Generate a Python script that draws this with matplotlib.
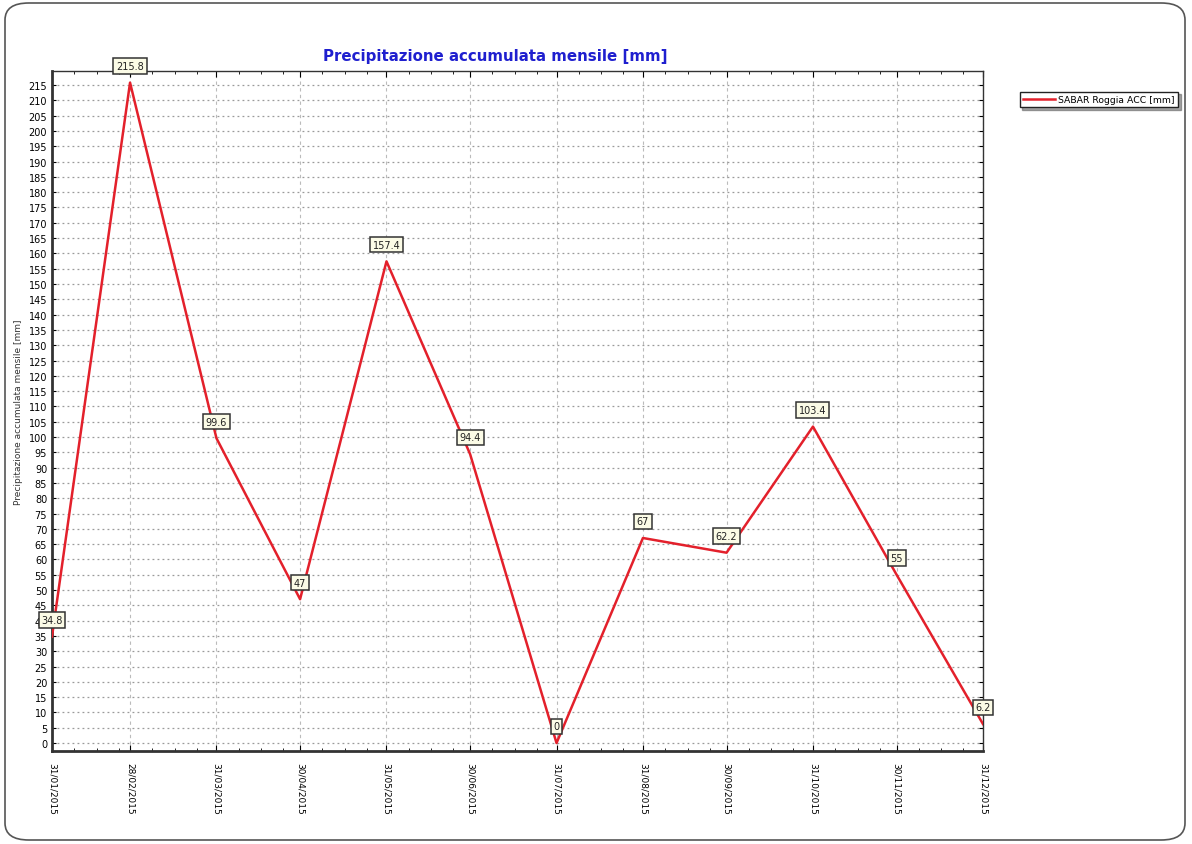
"""Precipitazione accumulata mensile - SABAR Roggia ACC."""

import matplotlib

matplotlib.use("Agg")
import matplotlib.pyplot as plt
import matplotlib.dates as mdates
from matplotlib.patches import FancyBboxPatch
import numpy as np

DATES = ["2015-01-31", "2015-02-28", "2015-03-31", "2015-04-30", "2015-05-31",
         "2015-06-30", "2015-07-31", "2015-08-31", "2015-09-30", "2015-10-31",
         "2015-11-30", "2015-12-31"]
VALUES = [34.8, 215.8, 99.6, 47, 157.4, 94.4, 0, 67, 62.2, 103.4, 55, 6.2]
LABELS = ["34.8", "215.8", "99.6", "47", "157.4", "94.4", "0", "67", "62.2",
          "103.4", "55", "6.2"]
TITLE = "Precipitazione accumulata mensile [mm]"
SERIES = "SABAR Roggia ACC [mm]"

RED = "#e3202b"

x = np.array(DATES, dtype="datetime64[D]").astype("O")

fig = plt.figure(figsize=(11.92, 8.45), dpi=100)
fig.patch.set_facecolor("white")

# cornice arrotondata
frame = FancyBboxPatch((5 / 1192, 4 / 845), 1180 / 1192, 837 / 845,
                       boxstyle="round,pad=0,rounding_size=0.02",
                       transform=fig.transFigure, fill=False,
                       edgecolor="#555555", linewidth=1.2)
fig.patches.append(frame)

ax = fig.add_axes([52 / 1192, 1 - 752 / 845, 931 / 1192, 680 / 845])
ax.plot(x, VALUES, color=RED, linewidth=1.8, label=SERIES, zorder=3)

for xi, v, lab in zip(x, VALUES, LABELS):
    ax.annotate(lab, (xi, v), xytext=(0, 12), textcoords="offset points",
                ha="center", va="center", fontsize=7, color="#222222",
                bbox=dict(boxstyle="square,pad=0.28", fc="#fbfbe6",
                          ec="#333333", lw=1.1), zorder=4)

ax.set_xlim(x[0], x[-1])
ax.set_ylim(-2.6, 219.6)
ax.set_yticks(np.arange(0, 216, 5))
ax.set_xticks(x)
ax.xaxis.set_major_formatter(mdates.DateFormatter("%d/%m/%Y"))
ax.xaxis.set_minor_locator(mdates.DayLocator(bymonthday=[8, 16, 24]))
ax.tick_params(axis="x", labelrotation=-90, labelsize=6.5, direction="in",
               length=4, top=True, pad=8)
ax.tick_params(axis="x", which="minor", direction="in", length=2, top=True)
ax.tick_params(axis="y", labelsize=7, direction="in", length=3, right=True)
for lab in ax.get_xticklabels():
    lab.set_verticalalignment("top")

ax.grid(True, axis="y", linestyle=(0, (1.5, 2.5)), color="#9a9a9a", linewidth=0.9)
ax.grid(True, axis="x", linestyle=(0, (3, 3)), color="#bbbbbb", linewidth=0.8)
for s in ax.spines.values():
    s.set_color("#333333")
    s.set_linewidth(1.0)
ax.spines["left"].set_linewidth(2.0)
ax.spines["bottom"].set_linewidth(2.0)

ax.set_ylabel("Precipitazione accumulata mensile [mm]", fontsize=6.5,
              color="#333333", labelpad=4)

fig.text(495 / 1192, 1 - 57 / 845, TITLE, ha="center", va="center",
         fontsize=10.8, fontweight="bold", color="#1f1fcf")

leg = fig.legend(loc="upper left", bbox_to_anchor=(1015 / 1192, 1 - 88 / 845),
                 fontsize=6.7, frameon=True, fancybox=False, shadow=True,
                 handlelength=3.4, borderpad=0.35, handletextpad=0.4)
leg.get_frame().set_edgecolor("#222222")
leg.get_frame().set_linewidth(1.0)

fig.savefig("out.png", dpi=100)
